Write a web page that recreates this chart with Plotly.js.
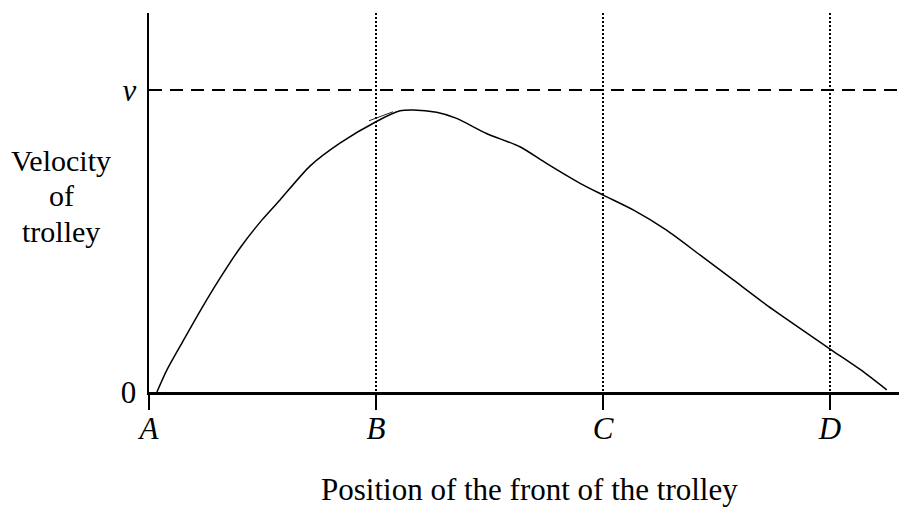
<!DOCTYPE html>
<html>
<head>
<meta charset="utf-8">
<script src="https://cdn.plot.ly/plotly-3.0.1.min.js"></script>
<style>
  body { margin: 0; background: #fff; }
  #chart { width: 899px; height: 509px; }
</style>
</head>
<body>
<div id="chart"></div>
<script>
// positions along the track (A = 0, B = 1, C = 2, D = 3), velocity as fraction of v
const positionLabels = ['A', 'B', 'C', 'D']
const positionTicks = [0, 1, 2, 3]
const velocityTicks = [0, 1]
const velocityLabels = ['0', '<i>v</i>']
const yTitleLines = ['Velocity', 'of', 'trolley']

const trolleyX = [0.035, 0.079, 0.145, 0.225, 0.313, 0.401, 0.498, 0.577, 0.709, 0.841, 1.0,
    1.106, 1.163, 1.267, 1.355, 1.487, 1.634, 1.751, 1.899, 2.001, 2.133, 2.280, 2.427, 2.574,
    2.721, 2.868, 3.007, 3.136, 3.25]
const trolleyV = [0, 0.073, 0.162, 0.268, 0.377, 0.477, 0.570, 0.636, 0.748, 0.824, 0.895,
    0.931, 0.934, 0.926, 0.906, 0.856, 0.812, 0.757, 0.691, 0.652, 0.603, 0.536, 0.454, 0.371,
    0.288, 0.211, 0.139, 0.073, 0.007]

// little overdrawn stroke near B in the original sketch
const strayX = [0.969, 1.075]
const strayV = [0.898, 0.928]

const serif = 'Liberation Serif, Times New Roman, serif'

const traces = [
    {
        mode: 'lines',
        x: trolleyX,
        y: trolleyV,
        line: { color: '#000', width: 1.5, shape: 'spline', smoothing: 0.7 },
        showlegend: false
    },
    {
        mode: 'lines',
        x: strayX,
        y: strayV,
        line: { color: '#222', width: 1 },
        showlegend: false
    }
]

// y title is three stacked lines, placed one by one (tighter than <br> spacing)
const yTitleY = [0.6095, 0.5172, 0.4248]
const yTitle = yTitleLines.map((t, i) => ({
    text: t,
    xref: 'paper', yref: 'paper',
    x: -0.1173, y: yTitleY[i],
    xanchor: 'center', yanchor: 'middle',
    showarrow: false,
    font: { family: serif, size: 30, color: '#000' }
}))

Plotly.newPlot(
    document.getElementById('chart'),
    traces,
    {
        width: 899,
        height: 509,
        margin: { l: 149, r: 0, t: 13, b: 117 },
        paper_bgcolor: '#fff',
        plot_bgcolor: '#fff',
        font: { family: serif, color: '#000', size: 30 },
        showlegend: false,
        hovermode: false,
        xaxis: {
            range: [0, 3.304],
            tickvals: positionTicks,
            ticktext: positionLabels,
            tickfont: { family: serif, size: 31, style: 'italic', color: '#000' },
            ticks: 'outside',
            ticklen: 15,
            tickwidth: 2,
            tickcolor: '#000',
            ticklabelstandoff: -8,
            showline: true,
            linecolor: '#000',
            linewidth: 2.5,
            showgrid: true,
            gridcolor: '#000',
            gridwidth: 1.5,
            griddash: '2px,2px',
            zeroline: false,
            fixedrange: true
        },
        yaxis: {
            range: [0, 1.255],
            tickvals: velocityTicks,
            ticktext: velocityLabels,
            tickfont: { family: serif, size: 31, color: '#000' },
            ticks: '',
            ticklabelstandoff: 4,
            showline: true,
            linecolor: '#000',
            linewidth: 2.5,
            showgrid: true,
            gridcolor: '#000',
            gridwidth: 1.5,
            griddash: '13px,8px',
            zeroline: false,
            fixedrange: true
        },
        annotations: [
            ...yTitle,
            {
                text: 'Position of the front of the trolley',
                xref: 'paper', yref: 'paper',
                x: 0.5067, y: -0.258,
                xanchor: 'center', yanchor: 'middle',
                showarrow: false,
                font: { family: serif, size: 31, color: '#000' }
            }
        ]
    },
    { displayModeBar: false, staticPlot: true }
)
</script>
</body>
</html>
